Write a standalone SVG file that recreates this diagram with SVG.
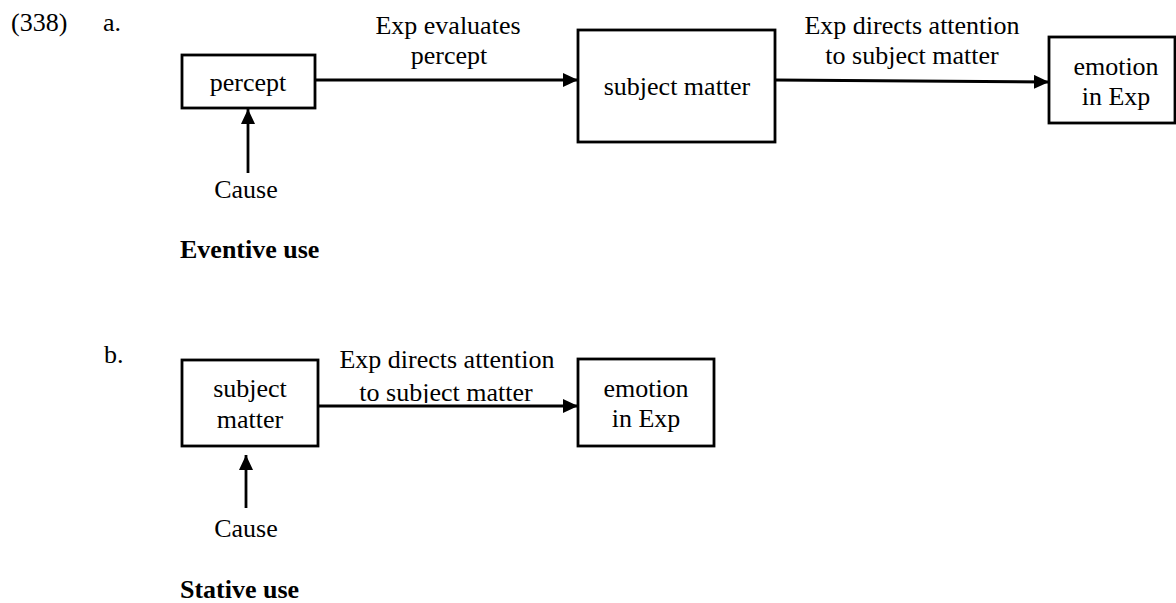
<svg xmlns="http://www.w3.org/2000/svg" width="1176" height="603" viewBox="0 0 1176 603">
<defs>
<marker id="ah" markerWidth="15" markerHeight="14" refX="15" refY="7" orient="auto" markerUnits="userSpaceOnUse">
<path d="M0,0 L15,7 L0,14 Z" fill="#000"/>
</marker>
<clipPath id="cutb"><rect x="300" y="370" width="300" height="33"/></clipPath>
<style>
text{font-family:"Liberation Serif","Times New Roman",serif;font-size:26px;fill:#000}
.c{text-anchor:middle}
.b{font-weight:bold}
.box{fill:#fff;stroke:#000;stroke-width:2.8}
.ln{stroke:#000;stroke-width:2.8;fill:none;marker-end:url(#ah)}
</style>
</defs>
<rect width="1176" height="603" fill="#fff"/>
<text x="11" y="31">(338)</text>
<text x="103" y="31">a.</text>
<text x="104" y="363">b.</text>
<g id="percept">
<rect class="box" x="182" y="55" width="133" height="53"/>
<text class="c" x="248" y="91">percept</text>
</g>
<g id="subject-matter-a">
<rect class="box" x="578" y="30" width="197" height="112"/>
<text class="c" x="677" y="95">subject matter</text>
</g>
<g id="emotion-a">
<rect class="box" x="1049" y="37" width="126" height="86"/>
<text class="c" x="1116" y="75">emotion</text>
<text class="c" x="1116" y="105">in Exp</text>
</g>
<g id="cause-a">
<text class="c" x="246" y="198">Cause</text>
</g>
<text class="b" x="180" y="258">Eventive use</text>
<g id="subject-matter-b">
<rect class="box" x="182" y="360" width="136" height="86"/>
<text class="c" x="250" y="397">subject</text>
<text class="c" x="250" y="428">matter</text>
</g>
<g id="emotion-b">
<rect class="box" x="578" y="359" width="136" height="87"/>
<text class="c" x="646" y="397">emotion</text>
<text class="c" x="646" y="427">in Exp</text>
</g>
<g id="cause-b">
<text class="c" x="246" y="537">Cause</text>
</g>
<text class="b" x="180" y="598">Stative use</text>
<g id="connectors">
<text class="c" x="448" y="34">Exp evaluates</text>
<text class="c" x="449" y="64">percept</text>
<line class="ln" x1="315" y1="80" x2="578" y2="80"/>
<text class="c" x="912" y="34">Exp directs attention</text>
<text class="c" x="912" y="64">to subject matter</text>
<line class="ln" x1="775" y1="80" x2="1049" y2="82"/>
<line class="ln" x1="248" y1="173" x2="248" y2="109"/>
<text class="c" x="447" y="368">Exp directs attention</text>
<text class="c" x="446" y="401" clip-path="url(#cutb)">to subject matter</text>
<line class="ln" x1="318" y1="406" x2="578" y2="406"/>
<line class="ln" x1="246" y1="508" x2="246" y2="455"/>
</g>
</svg>
